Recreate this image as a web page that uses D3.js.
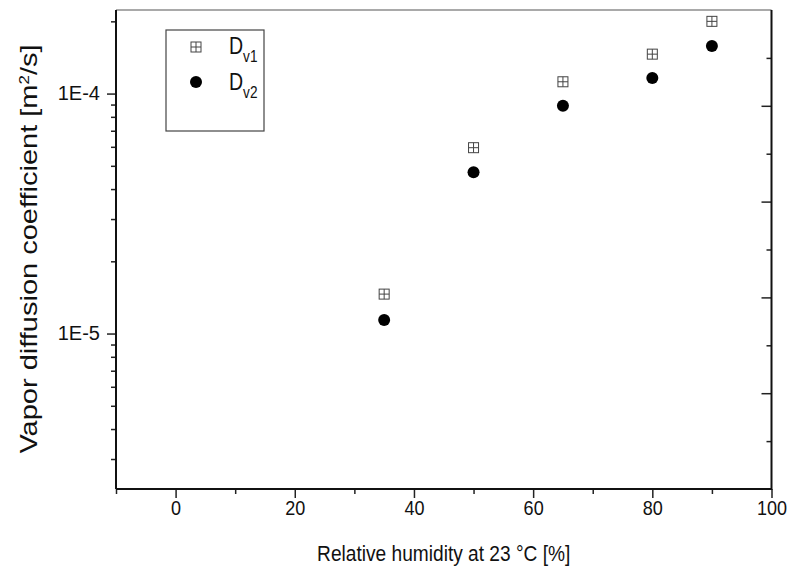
<!DOCTYPE html>
<html><head><meta charset="utf-8">
<script src="https://cdn.jsdelivr.net/npm/d3@7/dist/d3.min.js"></script>
<style>
body{margin:0;background:#fff}
text{font-family:"Liberation Sans",Arial,sans-serif;fill:#111}
</style>
</head><body>
<svg id="chart" width="790" height="575"></svg>
<script>
// ---- data ----
const humidity = [35, 50, 65, 80, 90];
const dv1 = [1.46e-5, 5.95e-5, 1.12e-4, 1.46e-4, 2.0e-4];
const dv2 = [1.14e-5, 4.7e-5, 8.9e-5, 1.16e-4, 1.58e-4];
const seriesNames = ["D", "D"];
const seriesSubs = ["v1", "v2"];
const xMajorTicks = [0, 20, 40, 60, 80, 100];
const xMinorTicks = [-10, 10, 30, 50, 70, 90];
const yMajorTicks = [1e-5, 1e-4];
const yMajorLabels = ["1E-5", "1E-4"];
const yMinorTicks = [3e-6,4e-6,5e-6,6e-6,7e-6,8e-6,9e-6,2e-5,3e-5,4e-5,5e-5,6e-5,7e-5,8e-5,9e-5,2e-4];
const rightMajor = [1, 2, 3, 4];
const rightMinor = [0.5, 1.5, 2.5, 3.5, 4.5];
const xTitle = "Relative humidity at 23 °C [%]";

// ---- layout ----
const L = 116, R = 771.5, T = 10, B = 489;
const svg = d3.select("#chart");
const x = d3.scaleLinear().domain([-10, 100]).range([L, R]);
const y = d3.scaleLog().domain([2.25e-6, 2.23e-4]).range([B, T]);
const yR = d3.scaleLinear().domain([0, 5]).range([B, T]);

function styleAxis(g, fs){
  g.select(".domain").remove();
  g.selectAll(".tick line").attr("stroke","#222").attr("stroke-width",1.5);
  g.selectAll(".tick text").attr("font-size",fs||19).attr("fill","#111")
   .attr("font-family",'"Liberation Sans",Arial,sans-serif');
}

// bottom axis
svg.append("g").attr("transform",`translate(0,${B})`)
  .call(d3.axisBottom(x).tickValues(xMinorTicks).tickSize(5).tickFormat(""))
  .call(styleAxis);
const xb = svg.append("g").attr("transform",`translate(0,${B})`)
  .call(d3.axisBottom(x).tickValues(xMajorTicks).tickSize(9).tickPadding(2).tickFormat(d3.format("d")))
  .call(styleAxis, 21);
xb.selectAll(".tick text").attr("transform","scale(0.86,1)");

// left axis
svg.append("g").attr("transform",`translate(${L},0)`)
  .call(d3.axisLeft(y).tickValues(yMinorTicks).tickSize(5).tickFormat(""))
  .call(styleAxis);
svg.append("g").attr("transform",`translate(${L},0)`)
  .call(d3.axisLeft(y).tickValues(yMajorTicks).tickSize(9).tickPadding(7)
        .tickFormat((d,i)=>yMajorLabels[i]))
  .call(styleAxis, 20);

// right axis (inward ticks, no labels)
svg.append("g").attr("transform",`translate(${R},0)`)
  .call(d3.axisLeft(yR).tickValues(rightMinor).tickSize(5).tickFormat(""))
  .call(styleAxis);
svg.append("g").attr("transform",`translate(${R},0)`)
  .call(d3.axisLeft(yR).tickValues(rightMajor).tickSize(10).tickFormat(""))
  .call(styleAxis);

// frame
svg.append("line").attr("x1",L).attr("x2",R).attr("y1",T).attr("y2",T).attr("stroke","#555").attr("stroke-width",1.2);
svg.append("line").attr("x1",L).attr("x2",R).attr("y1",B).attr("y2",B).attr("stroke","#111").attr("stroke-width",2);
svg.append("line").attr("x1",L).attr("x2",L).attr("y1",T).attr("y2",B).attr("stroke","#111").attr("stroke-width",2);
svg.append("line").attr("x1",R).attr("x2",R).attr("y1",T).attr("y2",B+1).attr("stroke","#111").attr("stroke-width",2);

// markers
function crossSquare(g, cx, cy, s){
  const h = s/2;
  g.append("rect").attr("x",cx-h).attr("y",cy-h).attr("width",s).attr("height",s)
    .attr("fill","#fff").attr("stroke","#444").attr("stroke-width",1);
  g.append("path").attr("d",`M${cx-h},${cy}H${cx+h}M${cx},${cy-h}V${cy+h}`)
    .attr("stroke","#444").attr("stroke-width",1).attr("fill","none");
}
const pts = svg.append("g");
humidity.forEach((h,i)=>{
  crossSquare(pts, x(h), y(dv1[i]), 10);
});
pts.selectAll("circle").data(humidity).join("circle")
  .attr("cx",d=>x(d)).attr("cy",(d,i)=>y(dv2[i])).attr("r",6).attr("fill","#000");

// legend
const lg = svg.append("g");
lg.append("rect").attr("x",166).attr("y",30).attr("width",98).attr("height",101)
  .attr("fill","none").attr("stroke","#444").attr("stroke-width",1.2);
crossSquare(lg, 196, 47, 10);
lg.append("circle").attr("cx",196).attr("cy",82).attr("r",6).attr("fill","#000");
[54, 90].forEach((by,i)=>{
  const t = lg.append("text").attr("transform",`translate(229,${by}) scale(0.85,1)`).attr("font-size",23);
  t.append("tspan").text(seriesNames[i]);
  t.append("tspan").attr("dy",8).attr("font-size",16).text(seriesSubs[i]);
});

// axis titles
svg.append("text").attr("transform",`translate(${(L+R)/2},561) scale(0.87,1)`).attr("text-anchor","middle")
  .attr("font-size",22).text(xTitle);
const yt = svg.append("text").attr("transform","translate(37,249) rotate(-90) scale(1,0.85)")
  .attr("text-anchor","middle").attr("font-size",29);
yt.append("tspan").text("Vapor diffusion coefficient [m");
yt.append("tspan").attr("dy",-10).attr("font-size",17).text("2");
yt.append("tspan").attr("dy",10).text("/s]");
</script>
</body></html>
